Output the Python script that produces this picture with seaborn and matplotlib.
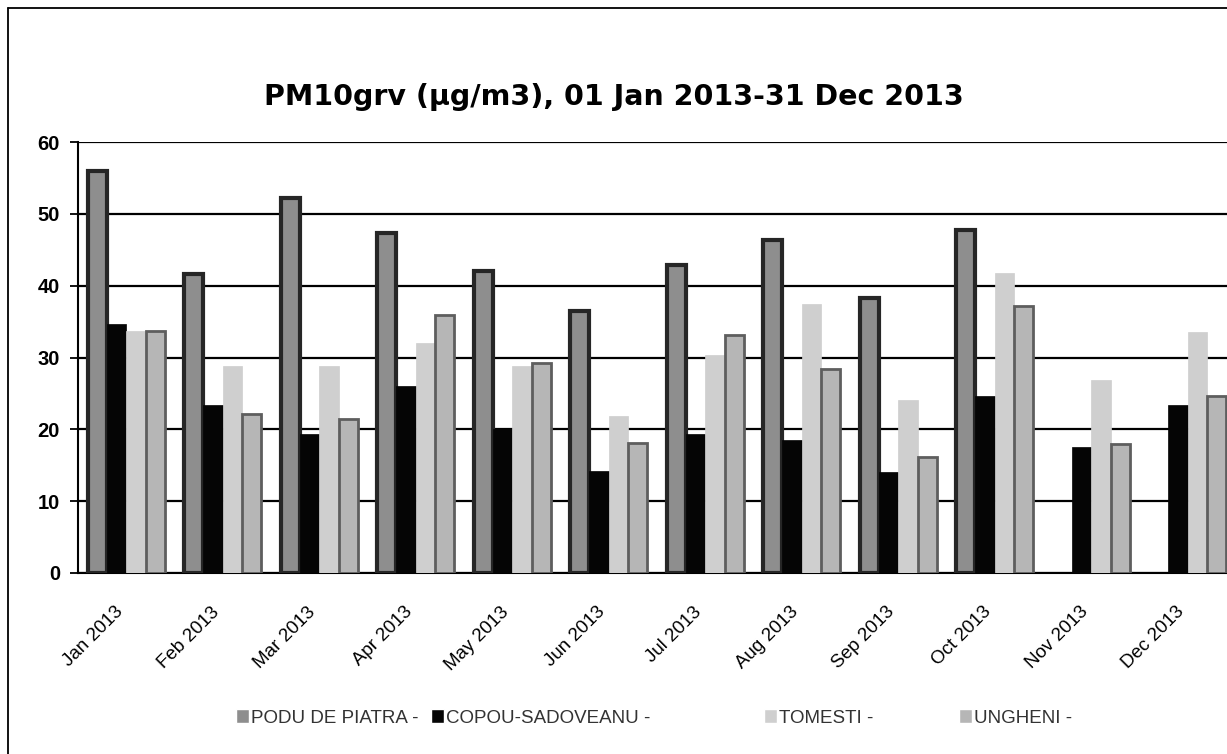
import numpy as np
import pandas as pd
import matplotlib
matplotlib.use("Agg")
import matplotlib.pyplot as plt
from matplotlib.lines import Line2D
import seaborn as sns

months = ['Jan 2013', 'Feb 2013', 'Mar 2013', 'Apr 2013', 'May 2013', 'Jun 2013',
          'Jul 2013', 'Aug 2013', 'Sep 2013', 'Oct 2013', 'Nov 2013', 'Dec 2013']
stations = ['PODU DE PIATRA -', 'COPOU-SADOVEANU -', 'TOMESTI -', 'UNGHENI -']

podu = [56.0, 41.6, 52.2, 47.4, 42.0, 36.5, 42.9, 46.3, 38.3, 47.8, np.nan, np.nan]
copou = [34.6, 23.4, 19.3, 26.0, 20.0, 14.2, 19.3, 18.5, 14.0, 24.6, 17.6, 23.4]
tomesti = [33.7, 28.8, 28.8, 32.0, 28.8, 21.8, 30.4, 37.5, 24.1, 41.8, 26.8, 33.6]
ungheni = [33.7, 22.1, 21.5, 35.9, 29.3, 18.1, 33.2, 28.4, 16.2, 37.2, 17.9, 24.7]

rows = []
for name, vals in zip(stations, [podu, copou, tomesti, ungheni]):
    for m, v in zip(months, vals):
        rows.append({'month': m, 'station': name, 'value': v})
df = pd.DataFrame(rows)

sns.set_style('white')
plt.rcParams['font.family'] = ['Liberation Sans', 'DejaVu Sans']
plt.rcParams['text.color'] = 'black'
plt.rcParams['xtick.color'] = 'black'
plt.rcParams['ytick.color'] = 'black'

fig = plt.figure(figsize=(12.27, 7.54), dpi=100)
ax = fig.add_axes([78 / 1227, 1 - 573 / 754, 1158 / 1227, 431 / 754])

fills = ['#8e8e8e', '#050505', '#cfcfcf', '#b6b6b6']
edges = ['#262626', '#050505', '#cfcfcf', '#5e5e5e']
lws = [3.0, 0.5, 0.5, 2.0]

sns.barplot(data=df, x='month', y='value', hue='station', order=months,
            hue_order=stations, palette=fills, width=0.8, ax=ax, legend=True,
            saturation=1, zorder=3)

for cont, ec, lw in zip(ax.containers, edges, lws):
    for bar in cont:
        bar.set_edgecolor(ec)
        bar.set_linewidth(lw)

ax.set_ylim(0, 60)
ax.set_xlim(-0.5, 11.5)
ax.set_yticks(range(0, 61, 10))
ax.yaxis.grid(True, color='black', linewidth=1.6, zorder=0)
ax.set_axisbelow(True)
ax.set_xlabel('')
ax.set_ylabel('')

for s in ['top', 'right']:
    ax.spines[s].set_visible(False)
for s in ['left', 'bottom']:
    ax.spines[s].set_color('black')
    ax.spines[s].set_linewidth(1.5)

ax.set_xticks(range(12))
ax.set_xticklabels(months, rotation=45, ha='right', rotation_mode='default')
ax.set_xticks(np.arange(-0.5, 12, 1), minor=True)
ax.tick_params(axis='x', which='major', length=0, pad=22, labelsize=13.5)
ax.tick_params(axis='x', which='minor', length=6, width=1.3, color='black', direction='out')
ax.tick_params(axis='y', length=6, width=1.3, color='black', direction='out', left=True,
               labelsize=14.5, pad=7)
for lab in ax.get_yticklabels():
    lab.set_fontweight('bold')

fig.text(614 / 1227, 1 - 97 / 754, 'PM10grv (\u00b5g/m3), 01 Jan 2013-31 Dec 2013',
         fontsize=20.5, fontweight='bold', family=['DejaVu Sans'], ha='center', va='center')

# legend entries placed one by one, like the original spacing
handles, labels = ax.get_legend_handles_labels()
ax.get_legend().remove()
leg_x = [236, 431, 764, 959]
for h, lab, x in zip(handles, labels, leg_x):
    lg = fig.legend([h], [lab], loc='center left', bbox_to_anchor=(x / 1227, 1 - 718 / 754),
                    frameon=False, fontsize=13.5, handlelength=0.7, handleheight=0.7,
                    handletextpad=0.1, borderaxespad=0, borderpad=0, labelcolor='#333333')

# outer frame of the original chart
fig.add_artist(Line2D([8 / 1227, 8 / 1227], [0, 1 - 8 / 754], color='black', lw=1.3,
                      transform=fig.transFigure))
fig.add_artist(Line2D([8 / 1227, 1], [1 - 8 / 754, 1 - 8 / 754], color='black', lw=1.3,
                      transform=fig.transFigure))

fig.savefig('out.png', dpi=100)
